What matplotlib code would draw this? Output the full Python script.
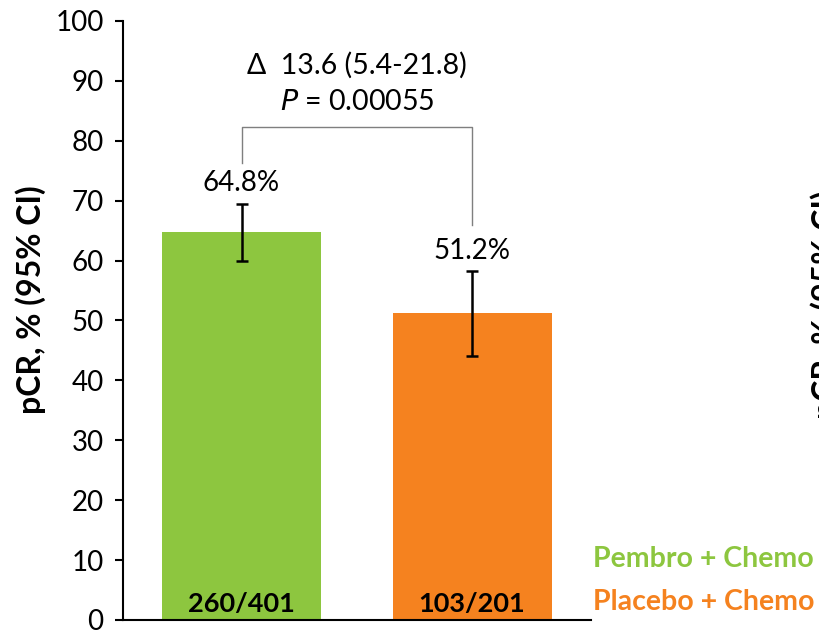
import matplotlib
matplotlib.use("Agg")
import matplotlib.pyplot as plt

plt.rcParams['font.family'] = ['Lato', 'DejaVu Sans']

# Data
groups = ["Pembro + Chemo", "Placebo + Chemo"]
pcr = [64.8, 51.2]
ci_low = [59.9, 44.1]
ci_high = [69.5, 58.2]
counts = ["260/401", "103/201"]
colors = ["#8DC63F", "#F5821F"]
delta_text = "Δ  13.6 (5.4-21.8)"
p_text = "$\\it{P}$ = 0.00055"
yticks = [0, 10, 20, 30, 40, 50, 60, 70, 80, 90, 100]

fig = plt.figure(figsize=(8.19, 6.30), dpi=100)
ax = fig.add_axes([0.1502, 0.0159, 0.5714, 0.9508])

x = list(range(len(pcr)))
err = [[v - lo for v, lo in zip(pcr, ci_low)], [hi - v for v, hi in zip(pcr, ci_high)]]
ax.bar(x, pcr, width=0.69, color=colors, zorder=2)
ax.errorbar(x, pcr, yerr=err, fmt='none', ecolor='black', elinewidth=1.8,
            capsize=4, capthick=1.8, zorder=3)

for xi, v, hi, c in zip(x, pcr, ci_high, counts):
    ax.text(xi, hi + 1.2, f"{v}%", ha='center', va='bottom', fontsize=20)
    ax.text(xi, 2.6, c, ha='center', va='center', fontsize=19.5, fontweight='bold')

# comparison bracket
y_top = 82.3
ax.plot([x[0], x[0], x[1], x[1]], [76.3, y_top, y_top, 66.0], color='#7f7f7f',
        lw=1.0, zorder=1, clip_on=False)
mid = (x[0] + x[1]) / 2
ax.text(mid, 92.6, delta_text, ha='center', va='center', fontsize=20.5)
ax.text(mid, 86.5, p_text, ha='center', va='center', fontsize=20.5)

ax.set_xlim(-0.514, 1.516)
ax.set_ylim(0, 100)
ax.set_yticks(yticks)
ax.set_xticks([])
ax.tick_params(axis='y', direction='out', length=6, width=1.5, labelsize=20, pad=8)
for s in ['top', 'right']:
    ax.spines[s].set_visible(False)
ax.spines['left'].set_linewidth(1.5)
ax.spines['bottom'].set_linewidth(1.5)

fig.text(31 / 819, 1 - 300 / 630, "pCR, % (95% CI)", rotation=90, ha='center', va='center',
         fontsize=23, fontweight='bold')

# group labels
fig.text(593 / 819, 1 - 559 / 630, groups[0], color=colors[0], ha='left', va='center',
         fontsize=20.5, fontweight='bold')
fig.text(593 / 819, 1 - 602 / 630, groups[1], color=colors[1], ha='left', va='center',
         fontsize=20.5, fontweight='bold')

# axis label of the neighbouring panel at the right edge
fig.text(826 / 819, 1 - 305 / 630, "pCR, % (95% CI)", rotation=90, ha='center', va='center',
         fontsize=23, fontweight='bold')

fig.savefig("out.png", dpi=100)
